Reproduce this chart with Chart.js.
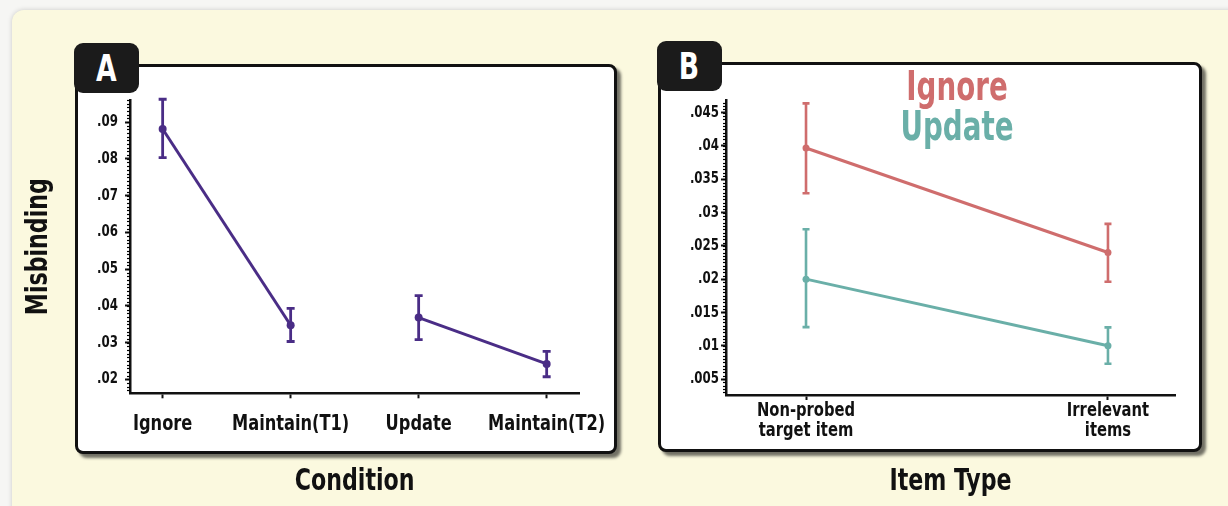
<!DOCTYPE html>
<html><head><meta charset="utf-8">
<script src="https://cdn.jsdelivr.net/npm/chart.js@4.4.1/dist/chart.umd.min.js"></script>
<style>
html,body{margin:0;padding:0;width:1228px;height:506px;overflow:hidden;background:#f6f6f4;}
.bg{position:absolute;left:12px;top:10px;width:1240px;height:510px;background:#fbf9df;border-radius:12px;box-shadow:0 0 5px rgba(0,0,0,0.18);}
.box{position:absolute;box-sizing:border-box;background:#fff;border:3px solid #111;border-radius:8px;box-shadow:4px 4px 3px rgba(0,0,0,0.55);}
.tab{position:absolute;box-sizing:border-box;background:#1b1b1b;border-radius:9px;color:#fff;font:bold 38px "DejaVu Sans Condensed","DejaVu Sans",sans-serif;text-align:center;line-height:50px;}
.tab span{display:inline-block;transform:scaleX(0.78);}
canvas{position:absolute;left:0;top:0;}
</style></head>
<body>
<div class="bg"></div>
<div class="box" style="left:75px;top:64px;width:542px;height:390px"></div>
<div class="tab" style="left:74px;top:43px;width:65px;height:50px"><span>A</span></div>
<div class="box" style="left:658px;top:62px;width:544px;height:390px"></div>
<div class="tab" style="left:657px;top:41px;width:65px;height:50px"><span>B</span></div>
<canvas id="cA" width="1228" height="506"></canvas>
<canvas id="cB" width="1228" height="506"></canvas>
<script>
// ---- data: panel A ----
const catsA = ['Ignore', 'Maintain(T1)', 'Update', 'Maintain(T2)'];
const meanA = [0.0881, 0.0347, 0.0368, 0.0242];
const lowA  = [0.0803, 0.0303, 0.0308, 0.0207];
const highA = [0.0962, 0.0393, 0.0428, 0.0276];
const yTicksA = [0.02, 0.03, 0.04, 0.05, 0.06, 0.07, 0.08, 0.09];

// ---- data: panel B ----
const catsB = [['Non-probed', 'target item'], ['Irrelevant', 'items']];
const seriesB = ['Ignore', 'Update'];
const ignoreB     = [0.0397, 0.0240];
const ignoreLowB  = [0.0329, 0.0196];
const ignoreHighB = [0.0464, 0.0283];
const updateB     = [0.0200, 0.0100];
const updateLowB  = [0.0128, 0.0073];
const updateHighB = [0.0275, 0.01275];
const yTicksB = [0.005, 0.01, 0.015, 0.02, 0.025, 0.03, 0.035, 0.04, 0.045];

const FONT = '"Liberation Sans Narrow", "DejaVu Sans Condensed", "Arial Narrow", sans-serif';
Chart.defaults.font.family = FONT;
Chart.defaults.font.weight = 'bold';
Chart.defaults.color = '#111';

const fmt = v => String(+(+v).toFixed(4)).replace(/^0\./, '.');

// draw all canvas text horizontally condensed (the original uses a condensed face)
const condense = {
  id: 'condense',
  beforeInit(chart, args, opts) {
    const ctx = chart.ctx;
    const orig = ctx.fillText.bind(ctx);
    ctx.fillText = function (t, x, y) {
      ctx.save(); ctx.translate(x, y); ctx.scale(opts.k, 1); orig(t, 0, 0); ctx.restore();
    };
  }
};

const minorTicks = {
  id: 'minorTicks',
  afterDraw(chart, args, opts) {
    const s = chart.scales.y, ctx = chart.ctx;
    ctx.save();
    ctx.strokeStyle = '#000'; ctx.lineWidth = 1.2;
    const start = Math.ceil(s.min / opts.step - 1e-9), end = Math.floor(s.max / opts.step + 1e-9);
    for (let k = start; k <= end; k++) {
      const y = Math.round(s.getPixelForValue(k * opts.step)) + 0.5;
      ctx.beginPath(); ctx.moveTo(s.right - opts.len, y); ctx.lineTo(s.right, y); ctx.stroke();
    }
    ctx.restore();
  }
};

const errorBars = {
  id: 'errorBars',
  afterDatasetsDraw(chart, args, opts) {
    const ctx = chart.ctx, xs = chart.scales.x, ys = chart.scales.y;
    chart.data.datasets.forEach(ds => {
      if (!ds.errLow) return;
      ctx.save();
      ctx.strokeStyle = ds.borderColor; ctx.lineWidth = opts.width;
      ds.data.forEach((p, i) => {
        const x = xs.getPixelForValue(p.x);
        const y1 = ys.getPixelForValue(ds.errLow[i]);
        const y2 = ys.getPixelForValue(ds.errHigh[i]);
        ctx.beginPath();
        ctx.moveTo(x, y1); ctx.lineTo(x, y2);
        ctx.moveTo(x - opts.cap, y1); ctx.lineTo(x + opts.cap, y1);
        ctx.moveTo(x - opts.cap, y2); ctx.lineTo(x + opts.cap, y2);
        ctx.stroke();
      });
      ctx.restore();
    });
  }
};

const textLegend = {
  id: 'textLegend',
  afterDraw(chart, args, opts) {
    const ctx = chart.ctx;
    ctx.save();
    ctx.font = 'bold ' + opts.size + 'px ' + FONT;
    ctx.textAlign = 'center'; ctx.textBaseline = 'alphabetic';
    chart.data.datasets.forEach((ds, i) => {
      ctx.save();
      ctx.fillStyle = ds.borderColor;
      ctx.translate(opts.x, opts.y + i * opts.gap);
      ctx.scale(opts.k, 1);
      ctx.fillText(ds.label, 0, 0);
      ctx.restore();
    });
    ctx.restore();
  }
};

const axisGrid = { drawOnChartArea: false, drawTicks: true, tickLength: 5, tickWidth: 2, tickColor: '#111' };
const axisBorder = { display: true, color: '#111', width: 2.5 };

// ---- Panel A ----
const purple = '#4a2d86';
new Chart(document.getElementById('cA'), {
  type: 'line',
  data: {
    datasets: [{
      label: 'Misbinding',
      data: meanA.map((v, i) => ({ x: i, y: v })),
      errLow: lowA, errHigh: highA,
      borderColor: purple, backgroundColor: purple,
      borderWidth: 3, pointRadius: 4, pointBorderWidth: 0, pointBackgroundColor: purple,
      tension: 0,
      segment: { borderColor: c => c.p0DataIndex === 1 ? 'rgba(0,0,0,0)' : purple }
    }]
  },
  options: {
    responsive: false, animation: false,
    layout: { padding: { left: 12, top: 100, right: 1228 - 579.3, bottom: 0 } },
    plugins: { legend: { display: false }, tooltip: { enabled: false },
      condense: { k: 0.82 },
      minorTicks: { step: 0.001, len: 3 }, errorBars: { width: 2.8, cap: 4 } },
    scales: {
      x: {
        type: 'linear', min: -0.255, max: catsA.length - 1 + 0.255,
        afterBuildTicks: s => { s.ticks = catsA.map((c, i) => ({ value: i })); },
        afterFit: s => { s.height = 506 - 393.3; },
        ticks: { callback: v => catsA[Math.round(v)], font: { size: 22, lineHeight: 1 }, padding: 15, maxRotation: 0, autoSkip: false },
        grid: axisGrid, border: axisBorder,
        title: { display: true, text: 'Condition', font: { size: 30, lineHeight: 1.2 }, padding: { top: 0, bottom: 6 } }
      },
      y: {
        type: 'linear', min: 0.0162, max: 0.096,
        afterBuildTicks: s => { s.ticks = yTicksA.map(v => ({ value: v })); },
        afterFit: s => { s.width = 130 - 12; },
        ticks: { callback: v => fmt(v), font: { size: 16 }, padding: 7 },
        grid: axisGrid, border: axisBorder,
        title: { display: true, text: 'Misbinding', font: { size: 30, lineHeight: 1.2 }, padding: { top: 9, bottom: 0 } }
      }
    }
  },
  plugins: [condense, minorTicks, errorBars]
});

// ---- Panel B ----
const red = '#cf6d6d', teal = '#6aafa8';
new Chart(document.getElementById('cB'), {
  type: 'line',
  data: {
    datasets: [
      { label: seriesB[0], data: ignoreB.map((v, i) => ({ x: i, y: v })), errLow: ignoreLowB, errHigh: ignoreHighB,
        borderColor: red, backgroundColor: red, pointBackgroundColor: red,
        borderWidth: 3, pointRadius: 3.5, pointBorderWidth: 0, tension: 0 },
      { label: seriesB[1], data: updateB.map((v, i) => ({ x: i, y: v })), errLow: updateLowB, errHigh: updateHighB,
        borderColor: teal, backgroundColor: teal, pointBackgroundColor: teal,
        borderWidth: 3, pointRadius: 3.5, pointBorderWidth: 0, tension: 0 }
    ]
  },
  options: {
    responsive: false, animation: false,
    layout: { padding: { left: 620, top: 100.7, right: 1228 - 1175, bottom: 0 } },
    plugins: { legend: { display: false }, tooltip: { enabled: false },
      condense: { k: 0.82 },
      minorTicks: { step: 0.0005, len: 3 }, errorBars: { width: 2.6, cap: 3.5 },
      textLegend: { x: 957, y: 100, gap: 40, size: 40, k: 0.94 } },
    scales: {
      x: {
        type: 'linear', min: -0.265, max: catsB.length - 1 + 0.222,
        afterBuildTicks: s => { s.ticks = catsB.map((c, i) => ({ value: i })); },
        afterFit: s => { s.height = 506 - 395; },
        ticks: { callback: v => catsB[Math.round(v)], font: { size: 20, lineHeight: 1 }, padding: 1, maxRotation: 0, autoSkip: false },
        grid: axisGrid, border: axisBorder,
        title: { display: true, text: 'Item Type', font: { size: 30, lineHeight: 1.2 }, padding: { top: 0, bottom: 6 } }
      },
      y: {
        type: 'linear', min: 0.0026, max: 0.0468,
        afterBuildTicks: s => { s.ticks = yTicksB.map(v => ({ value: v })); },
        afterFit: s => { s.width = 726 - 620; },
        ticks: { callback: v => fmt(v), font: { size: 16 }, padding: 2 },
        grid: axisGrid, border: axisBorder
      }
    }
  },
  plugins: [condense, minorTicks, errorBars, textLegend]
});
</script>
</body></html>
